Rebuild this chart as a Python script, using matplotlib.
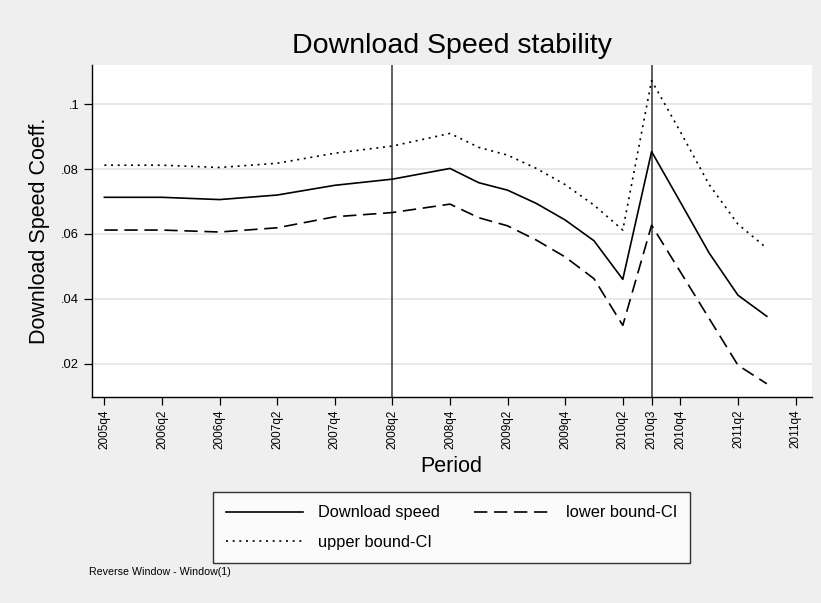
import matplotlib
matplotlib.use('Agg')
import matplotlib.pyplot as plt

plt.rcParams['font.family'] = ['Liberation Sans', 'DejaVu Sans']

# quarters with observations
periods = ['2005q4', '2006q2', '2006q4', '2007q2', '2007q4', '2008q2', '2008q4',
           '2009q1', '2009q2', '2009q3', '2009q4', '2010q1', '2010q2', '2010q3',
           '2010q4', '2011q1', '2011q2', '2011q3']
speed = [0.0713, 0.0713, 0.0706, 0.0720, 0.0750, 0.0769, 0.0802,
         0.0758, 0.0735, 0.0694, 0.0643, 0.0579, 0.0460, 0.0854,
         0.0698, 0.0541, 0.0411, 0.0346]
lower_ci = [0.0612, 0.0612, 0.0606, 0.0619, 0.0653, 0.0666, 0.0692,
            0.0650, 0.0625, 0.0581, 0.0529, 0.0462, 0.0318, 0.0627,
            0.0483, 0.0339, 0.0195, 0.0138]
upper_ci = [0.0812, 0.0812, 0.0805, 0.0818, 0.0849, 0.0871, 0.0910,
            0.0867, 0.0843, 0.0802, 0.0752, 0.0689, 0.0612, 0.1073,
            0.0915, 0.0752, 0.0630, 0.0556]

xtick_labels = ['2005q4', '2006q2', '2006q4', '2007q2', '2007q4', '2008q2',
                '2008q4', '2009q2', '2009q4', '2010q2', '2010q3', '2010q4',
                '2011q2', '2011q4']
ytick_values = [0.02, 0.04, 0.06, 0.08, 0.1]
ytick_labels = ['.02', '.04', '.06', '.08', '.1']
event_periods = ['2008q2', '2010q3']


def qindex(label):
    # quarters counted from 2005q4
    year, q = label.split('q')
    return (int(year) - 2005) * 4 + int(q) - 4


BG = '#efefef'

fig = plt.figure(figsize=(8.21, 6.03), dpi=100, facecolor=BG)
ax = fig.add_axes([0.1117, 0.3411, 0.877, 0.5511])
ax.set_facecolor('white')

x = [qindex(p) for p in periods]

for yv in ytick_values:
    ax.axhline(yv, color='#e6e6e6', linewidth=1.3, zorder=0)

for p in event_periods:
    ax.axvline(qindex(p), color='#333333', linewidth=1.1, zorder=1)

l1, = ax.plot(x, speed, color='black', linewidth=1.2, label='Download speed')
l2, = ax.plot(x, lower_ci, color='black', linewidth=1.2, dashes=(8, 4),
              label='lower bound-CI')
l3, = ax.plot(x, upper_ci, color='black', linewidth=1.2, dashes=(1.2, 2.8),
              label='upper bound-CI')

ax.set_xlim(-0.44, 24.56)
ax.set_ylim(0.00962, 0.1121)

ax.set_xticks([qindex(t) for t in xtick_labels])
ax.set_xticklabels(xtick_labels, rotation=90, fontsize=8.5)
ax.set_yticks(ytick_values)
ax.set_yticklabels(ytick_labels, fontsize=9.3)
ax.tick_params(axis='both', direction='out', length=5.5, width=0.9, color='black')
ax.tick_params(axis='y', pad=3.5)

for side in ['top', 'right']:
    ax.spines[side].set_visible(False)
for side in ['left', 'bottom']:
    ax.spines[side].set_linewidth(1.0)
    ax.spines[side].set_color('black')

ax.set_xlabel('Period', fontsize=15.5, labelpad=5)
ax.set_ylabel('Download Speed Coeff.', fontsize=15.5, labelpad=8)
fig.text(0.55, 0.923, 'Download Speed stability', fontsize=20.5,
         ha='center', va='center')

leg = fig.legend([l1, l3, l2],
                 ['Download speed', 'upper bound-CI', 'lower bound-CI'],
                 ncol=2, loc='center', bbox_to_anchor=(0.55, 0.125),
                 fontsize=11.8, frameon=True, fancybox=False, edgecolor='black',
                 handlelength=4.7, handletextpad=0.9, columnspacing=2.1,
                 borderpad=0.78, labelspacing=0.9, borderaxespad=0)
leg.get_frame().set_linewidth(1.0)
leg.get_frame().set_facecolor('white')

fig.text(0.109, 0.051, 'Reverse Window - Window(1)', fontsize=7.7,
         ha='left', va='center')

fig.savefig('out.png', dpi=100, facecolor=BG)
